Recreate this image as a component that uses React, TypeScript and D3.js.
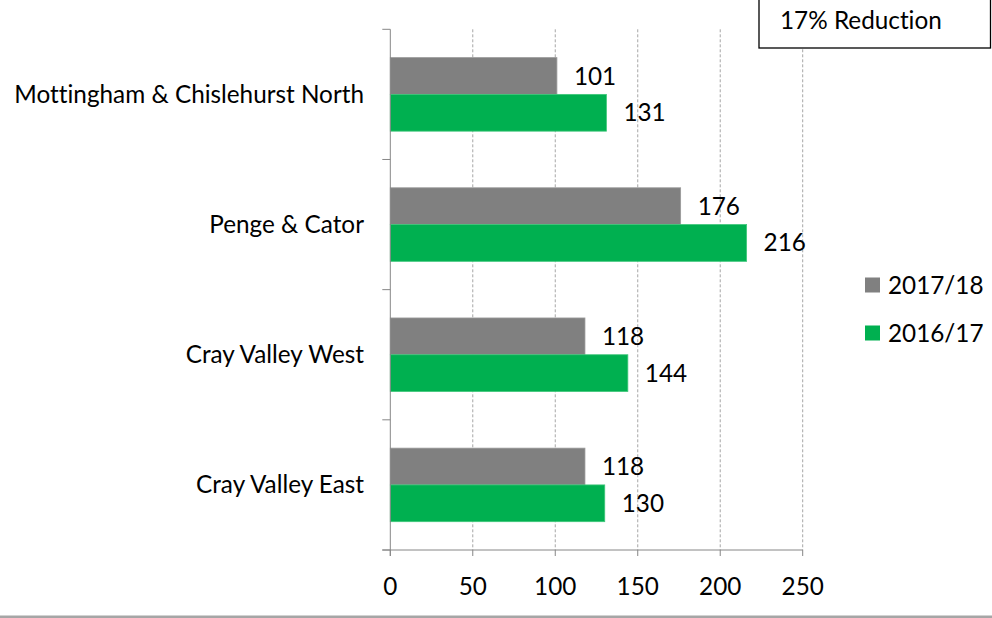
import React from "react";
import * as d3 from "d3";

const categories = [
  "Mottingham & Chislehurst North",
  "Penge & Cator",
  "Cray Valley West",
  "Cray Valley East",
];
const seriesNames = ["2017/18", "2016/17"];
const values1718 = [101, 176, 118, 118];
const values1617 = [131, 216, 144, 130];
const xTicks = [0, 50, 100, 150, 200, 250];
const colors = ["#808080", "#00B050"];
const noteText = "17% Reduction";

const W = 992;
const H = 618;
const font = "Lato, 'Open Sans', sans-serif";
const fs = 24.3;

export default function App() {
  const x = d3.scaleLinear().domain([0, 250]).range([390.3, 802.7]);
  const y = d3.scaleBand<string>().domain(categories).range([29.3, 550]).padding(0);
  const inner = d3
    .scaleBand<string>()
    .domain(seriesNames)
    .range([0, y.bandwidth()])
    .paddingOuter(0.77)
    .paddingInner(0);
  const series = [values1718, values1617];

  return (
    <svg
      width={W}
      height={H}
      style={{ position: "absolute", left: 0, top: 0, background: "#fff", fontVariantLigatures: "none" }}
      fontFamily={font}
    >
      {/* gridlines */}
      {xTicks.slice(1).map((t) => (
        <line
          key={"g" + t}
          x1={x(t)}
          x2={x(t)}
          y1={y.range()[0]}
          y2={y.range()[1]}
          stroke="#a6a6a6"
          strokeDasharray="3,2"
          strokeWidth={1}
        />
      ))}

      {/* bars */}
      {categories.map((c, i) =>
        seriesNames.map((s, j) => (
          <rect
            key={c + s}
            x={x(0)}
            y={(y(c) as number) + (inner(s) as number)}
            width={x(series[j][i]) - x(0)}
            height={inner.bandwidth()}
            fill={colors[j]}
            stroke={j === 0 ? "#999" : "#3fc77a"}
            strokeWidth={0.8}
          />
        ))
      )}

      {/* value labels */}
      {categories.map((c, i) =>
        seriesNames.map((s, j) => (
          <text
            key={"v" + c + s}
            x={x(series[j][i]) + 17}
            y={(y(c) as number) + (inner(s) as number) + inner.bandwidth() / 2}
            dy="0.35em"
            fontSize={fs}
            fill="#000"
          >
            {series[j][i]}
          </text>
        ))
      )}

      {/* y axis */}
      <line x1={x(0)} x2={x(0)} y1={y.range()[0]} y2={y.range()[1] + 6} stroke="#868686" />
      {[...categories.map((c) => y(c) as number), y.range()[1]].map((v, i) => (
        <line key={"yt" + i} x1={x(0) - 8} x2={x(0)} y1={v} y2={v} stroke="#868686" />
      ))}
      {categories.map((c) => (
        <text
          key={"yl" + c}
          x={364}
          y={(y(c) as number) + y.bandwidth() / 2}
          dy="0.35em"
          textAnchor="end"
          fontSize={fs}
          fill="#000"
        >
          {c}
        </text>
      ))}

      {/* x axis */}
      <line x1={x(0) - 8} x2={x(250)} y1={y.range()[1]} y2={y.range()[1]} stroke="#868686" />
      {xTicks.map((t) => (
        <g key={"xt" + t}>
          <line x1={x(t)} x2={x(t)} y1={y.range()[1]} y2={y.range()[1] + 6} stroke="#868686" />
          <text x={x(t)} y={586} dy="0.35em" textAnchor="middle" fontSize={fs} fill="#000">
            {t}
          </text>
        </g>
      ))}

      {/* legend */}
      {seriesNames.map((s, j) => (
        <g key={"lg" + s} transform={`translate(865, ${285 + j * 48})`}>
          <rect x={0} y={-7.5} width={15} height={15} fill={colors[j]} />
          <text x={23} y={0} dy="0.35em" fontSize={fs} fill="#000">
            {s}
          </text>
        </g>
      ))}

      {/* note box */}
      <rect x={759} y={-2} width={231.5} height={50} fill="#fff" stroke="#000" strokeWidth={1.3} />
      <text x={780} y={20} dy="0.35em" fontSize={fs} fill="#000">
        {noteText}
      </text>

      {/* bottom rule */}
      <rect x={0} y={615.5} width={W} height={2.5} fill="#a6a6a6" />
    </svg>
  );
}
